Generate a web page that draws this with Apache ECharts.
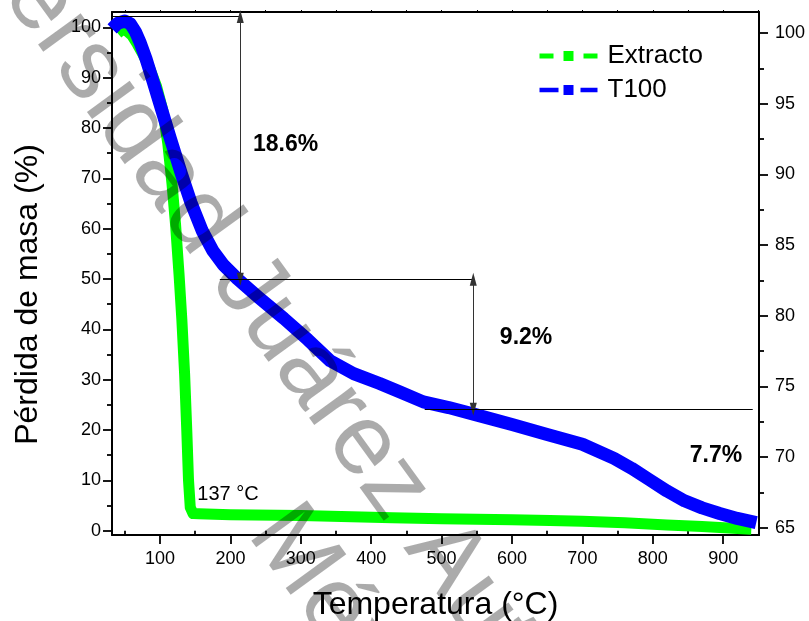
<!DOCTYPE html>
<html>
<head>
<meta charset="utf-8">
<script src="https://cdn.jsdelivr.net/npm/echarts@6/dist/echarts.min.js"></script>
<style>
  html, body { margin: 0; padding: 0; background: #fff; }
  #chart { width: 809px; height: 621px; }
</style>
</head>
<body>
<div id="chart"></div>
<script>
// Thermogravimetric curves: extract (left axis) and T100 (right axis)
const tempExtracto = [40, 45, 52, 60, 68, 76, 85, 95, 104, 111, 117, 122, 127, 131, 135, 138, 140.5, 143, 147, 155, 200, 300, 430, 500, 600, 654, 700, 760, 820, 870, 914, 940];
const masaExtracto = [98.8, 99.4, 99.4, 98.4, 96.6, 94.6, 92.0, 88.3, 83.5, 77.0, 69.0, 61.0, 51.0, 42.0, 31.0, 20.0, 10.0, 4.6, 3.4, 3.35, 3.15, 3.0, 2.55, 2.35, 2.2, 2.03, 1.9, 1.6, 1.15, 0.85, 0.47, 0.3];

const tempT100 = [32, 40, 50, 58, 65, 72, 80, 90, 101, 115, 130, 144, 160, 175, 190, 210, 240, 276, 310, 342, 375, 412, 441, 474, 510, 548, 600, 650, 700, 745, 770, 795, 820, 845, 870, 895, 920, 947];
const masaT100 = [100.3, 100.7, 100.85, 100.65, 100.1, 99.3, 98.2, 96.6, 94.8, 92.5, 90.1, 88.0, 86.0, 84.6, 83.6, 82.6, 81.3, 79.8, 78.3, 76.8, 75.9, 75.2, 74.6, 73.9, 73.5, 73.0, 72.3, 71.6, 70.9, 69.9, 69.2, 68.4, 67.6, 66.9, 66.4, 66.0, 65.65, 65.35];

// Mass-loss steps of T100
const stepStart = 101.17;
const stepLosses = [18.6, 9.2, 7.7];
const stepLabels = ['18.6%', '9.2%', '7.7%'];
const onsetLabel = '137 °C';

// Tick values
const xMajor = [100, 200, 300, 400, 500, 600, 700, 800, 900];
const xMinor = [50, 150, 250, 350, 450, 550, 650, 750, 850, 950];
const xTop = [50, 100, 150, 200, 250, 300, 350, 400, 450, 500, 550, 600, 650, 700, 750, 800, 850, 900, 950];
const leftMajor = [0, 10, 20, 30, 40, 50, 60, 70, 80, 90, 100];
const leftMinor = [5, 15, 25, 35, 45, 55, 65, 75, 85, 95];
const rightMajor = [65, 70, 75, 80, 85, 90, 95, 100];
const rightMinor = [67.5, 72.5, 77.5, 82.5, 87.5, 92.5, 97.5];

const FONT = 'Liberation Sans, Arial, Helvetica, sans-serif';
const X_MIN = 31.8, X_MAX = 950.9;
const L_MIN = -0.854, L_MAX = 103.05;
const R_MIN = 64.48, R_MAX = 101.49;

const level1 = stepStart - stepLosses[0];
const level2 = level1 - stepLosses[1];

function zip(a, b) { return a.map((v, i) => [v, b[i]]); }

function tickAxis(extra) {
  return Object.assign({
    type: 'value',
    gridIndex: 0,
    splitLine: { show: false },
    axisLine: { show: false },
    axisLabel: { show: false },
  }, extra);
}

const chart = echarts.init(document.getElementById('chart'), null, { renderer: 'canvas' });

chart.setOption({
  animation: false,
  backgroundColor: '#ffffff',
  grid: { left: 112, right: 50, top: 12, bottom: 86, containLabel: false, outerBoundsMode: 'none' },
  legend: {
    orient: 'vertical',
    left: 532,
    top: 38,
    itemWidth: 58,
    itemHeight: 12.5,
    itemGap: 8,
    textStyle: { fontFamily: FONT, fontSize: 26, color: '#000', lineHeight: 26, padding: [0, 0, 0, 5] },
    data: [
      { name: 'Extracto', lineStyle: { width: 5, type: [14, 30] } },
      { name: 'T100', lineStyle: { width: 4.5, type: [19, 22] } }
    ]
  },
  xAxis: [
    {
      type: 'value', min: X_MIN, max: X_MAX, position: 'bottom',
      name: 'Temperatura (°C)', nameLocation: 'middle', nameGap: 54,
      nameTextStyle: { fontFamily: FONT, fontSize: 32, color: '#000' },
      splitLine: { show: false },
      axisLine: { show: true, onZero: false, lineStyle: { color: '#000', width: 2 } },
      axisTick: { show: true, customValues: xMajor, length: 9, lineStyle: { color: '#000', width: 1.8 } },
      axisLabel: { customValues: xMajor, fontFamily: FONT, fontSize: 18, color: '#000', margin: 15 }
    },
    tickAxis({
      min: X_MIN, max: X_MAX, position: 'bottom',
      axisTick: { show: true, customValues: xMinor, length: 5, lineStyle: { color: '#000', width: 1.8 } }
    }),
    {
      type: 'value', min: X_MIN, max: X_MAX, position: 'top',
      splitLine: { show: false },
      axisLine: { show: true, onZero: false, lineStyle: { color: '#000', width: 2 } },
      axisTick: { show: true, customValues: xTop, length: 2, lineStyle: { color: '#000', width: 1 } },
      axisLabel: { show: false }
    }
  ],
  yAxis: [
    {
      type: 'value', min: L_MIN, max: L_MAX, position: 'left',
      name: 'Pérdida de masa (%)', nameLocation: 'middle', nameGap: 68, nameRotate: 90,
      nameTextStyle: { fontFamily: FONT, fontSize: 32, color: '#000', padding: [0, 42, 0, 0] },
      splitLine: { show: false },
      axisLine: { show: true, onZero: false, lineStyle: { color: '#000', width: 2 } },
      axisTick: { show: true, customValues: leftMajor, length: 9, lineStyle: { color: '#000', width: 1.8 } },
      axisLabel: { customValues: leftMajor, fontFamily: FONT, fontSize: 18, color: '#000', margin: 11 }
    },
    tickAxis({
      min: L_MIN, max: L_MAX, position: 'left',
      axisTick: { show: true, customValues: leftMinor, length: 5, lineStyle: { color: '#000', width: 1.8 } }
    }),
    {
      type: 'value', min: R_MIN, max: R_MAX, position: 'right',
      splitLine: { show: false },
      axisLine: { show: true, onZero: false, lineStyle: { color: '#000', width: 2 } },
      axisTick: { show: true, customValues: rightMajor, length: 9, lineStyle: { color: '#000', width: 1.8 } },
      axisLabel: { customValues: rightMajor, fontFamily: FONT, fontSize: 18, color: '#000', margin: 16 }
    },
    tickAxis({
      min: R_MIN, max: R_MAX, position: 'right',
      axisTick: { show: true, customValues: rightMinor, length: 5, lineStyle: { color: '#000', width: 1.8 } }
    })
  ],
  series: [
    {
      name: 'Extracto',
      type: 'line',
      xAxisIndex: 0,
      yAxisIndex: 0,
      data: zip(tempExtracto, masaExtracto),
      symbol: 'rect',
      showSymbol: false,
      smooth: false,
      itemStyle: { color: '#00ff00' },
      lineStyle: { color: '#00ff00', width: 11, cap: 'butt', join: 'round' },
      markPoint: {
        silent: true,
        symbol: 'circle',
        symbolSize: 0,
        label: { show: true, position: 'inside', fontFamily: FONT, fontSize: 20, color: '#000', formatter: p => p.name },
        data: [{ name: onsetLabel, coord: [196.6, 7.1] }]
      }
    },
    {
      name: 'T100',
      type: 'line',
      xAxisIndex: 0,
      yAxisIndex: 2,
      data: zip(tempT100, masaT100),
      symbol: 'rect',
      showSymbol: false,
      smooth: false,
      itemStyle: { color: '#0000ff' },
      lineStyle: { color: '#0000ff', width: 13, cap: 'butt', join: 'round' },
      markLine: {
        silent: true,
        symbol: ['none', 'none'],
        label: { show: false },
        lineStyle: { color: '#000', width: 1, type: 'solid' },
        data: [
          [{ coord: [X_MIN, stepStart] }, { coord: [214, stepStart] }],
          [{ coord: [214, stepStart], symbol: 'triangle', symbolSize: [7, 13], lineStyle: { color: '#333' } },
           { coord: [214, level1], symbol: 'triangle', symbolSize: [7, 13] }],
          [{ coord: [185, level1] }, { coord: [545, level1] }],
          [{ coord: [545, level1], symbol: 'triangle', symbolSize: [7, 13], lineStyle: { color: '#333' } },
           { coord: [545, level2], symbol: 'triangle', symbolSize: [7, 13] }],
          [{ coord: [476, level2] }, { coord: [942, level2] }]
        ]
      },
      markPoint: {
        silent: true,
        symbol: 'circle',
        symbolSize: 0,
        label: { show: true, position: 'inside', fontFamily: FONT, fontSize: 23, fontWeight: 'bold', color: '#000', formatter: p => p.name },
        data: [
          { name: stepLabels[0], coord: [278.3, 92.08] },
          { name: stepLabels[1], coord: [620, 78.42] },
          { name: stepLabels[2], coord: [889.8, 70.07] }
        ]
      }
    }
  ],
  graphic: [
    {
      type: 'text',
      silent: true,
      z: 100,
      x: 410,
      y: 611,
      rotation: -54 * Math.PI / 180,
      style: {
        text: 'Universidad Juárez Autónoma de Tabasco\nMéxico',
        fontFamily: FONT,
        fontSize: 100,
        lineHeight: 119,
        fill: 'rgba(0,0,0,0.33)',
        textAlign: 'center',
        textVerticalAlign: 'middle',
        verticalAlign: 'middle'
      }
    }
  ]
});
</script>
</body>
</html>
